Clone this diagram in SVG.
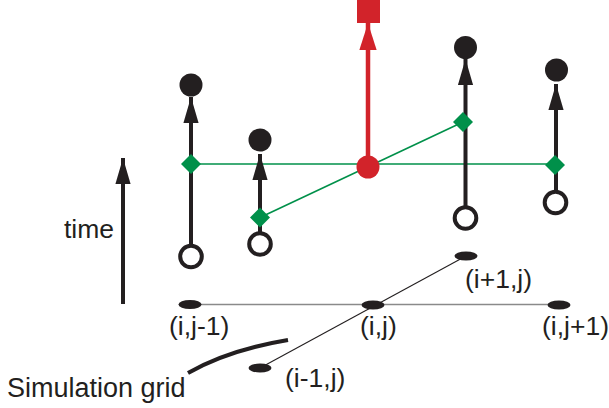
<svg xmlns="http://www.w3.org/2000/svg" width="609" height="408" viewBox="0 0 609 408">
<style>
text{font-family:"Liberation Sans",Arial,sans-serif;font-size:26.5px;fill:#231f20}
.stem{stroke:#231f20;stroke-width:4;fill:none}
.full{fill:#231f20}
.open{fill:#fff;stroke:#231f20;stroke-width:4}
.dia{fill:#00904a}
.gl{stroke:#00904a;stroke-width:1.6;fill:none}
.node{fill:#231f20}
</style>
<defs>
<marker id="ah" markerUnits="userSpaceOnUse" markerWidth="26" markerHeight="16" refX="24" refY="7" orient="auto" viewBox="0 0 24 14"><path d="M0,0 L24,7 L0,14 z" fill="#231f20"/></marker>
<marker id="ahr" markerUnits="userSpaceOnUse" markerWidth="27" markerHeight="18" refX="25" refY="8" orient="auto" viewBox="0 0 25 16"><path d="M0,0 L25,8 L0,16 z" fill="#d2232a"/></marker>
</defs>
<g id="connectors">
<line class="gl" x1="191" y1="164" x2="555" y2="164"/>
<line class="gl" x1="260" y1="217.5" x2="463" y2="122"/>
<line class="stem" x1="191" y1="245" x2="191" y2="97" marker-end="url(#ah)"/>
<line class="stem" x1="260" y1="233" x2="260" y2="154" marker-end="url(#ah)"/>
<line class="stem" x1="465.5" y1="207" x2="465.5" y2="59" marker-end="url(#ah)"/>
<line class="stem" x1="556" y1="191" x2="556" y2="84" marker-end="url(#ah)"/>
<line x1="368" y1="160" x2="368" y2="23" stroke="#d2232a" stroke-width="4.5" marker-end="url(#ahr)"/>
<line class="stem" x1="123" y1="304" x2="123" y2="158" marker-end="url(#ah)"/>
<line x1="190" y1="304.5" x2="559" y2="304.5" stroke="#8a8a8a" stroke-width="1.6"/>
<line x1="260" y1="368" x2="466" y2="256" stroke="#231f20" stroke-width="1.1"/>
<path d="M188,373 Q228,350 288,340" stroke="#231f20" stroke-width="4" fill="none"/>
</g>
<g id="col1">
<circle class="full" cx="191" cy="85" r="11.5"/>
<circle class="open" cx="191" cy="256.5" r="10.8"/>
<path class="dia" d="M191,154 L201,164 L191,174 L181,164 z"/>
</g>
<g id="col2">
<circle class="full" cx="260" cy="140" r="11.5"/>
<circle class="open" cx="260" cy="244" r="10.8"/>
<path class="dia" d="M260,207.5 L270,217.5 L260,227.5 L250,217.5 z"/>
</g>
<g id="col3">
<circle class="full" cx="465.5" cy="47.5" r="11.5"/>
<circle class="open" cx="465.5" cy="218" r="10.8"/>
<path class="dia" d="M463,112 L473,122 L463,132 L453,122 z"/>
</g>
<g id="col4">
<circle class="full" cx="556.5" cy="70" r="11.5"/>
<circle class="open" cx="555.5" cy="202.5" r="10.8"/>
<path class="dia" d="M555,155 L565,165 L555,175 L545,165 z"/>
</g>
<g id="red">
<rect x="357" y="-2" width="23" height="25" fill="#d2232a"/>
<circle cx="368" cy="167" r="11.5" fill="#d2232a"/>
</g>
<g id="grid-ij-1"><ellipse class="node" cx="190" cy="304.5" rx="11.5" ry="4.5"/><text x="169" y="335">(i,j-1)</text></g>
<g id="grid-ij"><ellipse class="node" cx="373" cy="305" rx="11.5" ry="4.5"/><text x="360" y="335">(i,j)</text></g>
<g id="grid-ij+1"><ellipse class="node" cx="559" cy="305" rx="11.5" ry="4.5"/><text x="542" y="335">(i,j+1)</text></g>
<g id="grid-i+1j"><ellipse class="node" cx="466" cy="256" rx="11.5" ry="4.5"/><text x="465" y="288">(i+1,j)</text></g>
<g id="grid-i-1j"><ellipse class="node" cx="260" cy="368" rx="11.5" ry="4.5"/><text x="285" y="387">(i-1,j)</text></g>
<g id="labels">
<text x="64" y="238">time</text>
<text x="7" y="397" style="font-size:27px">Simulation grid</text>
</g>
</svg>
